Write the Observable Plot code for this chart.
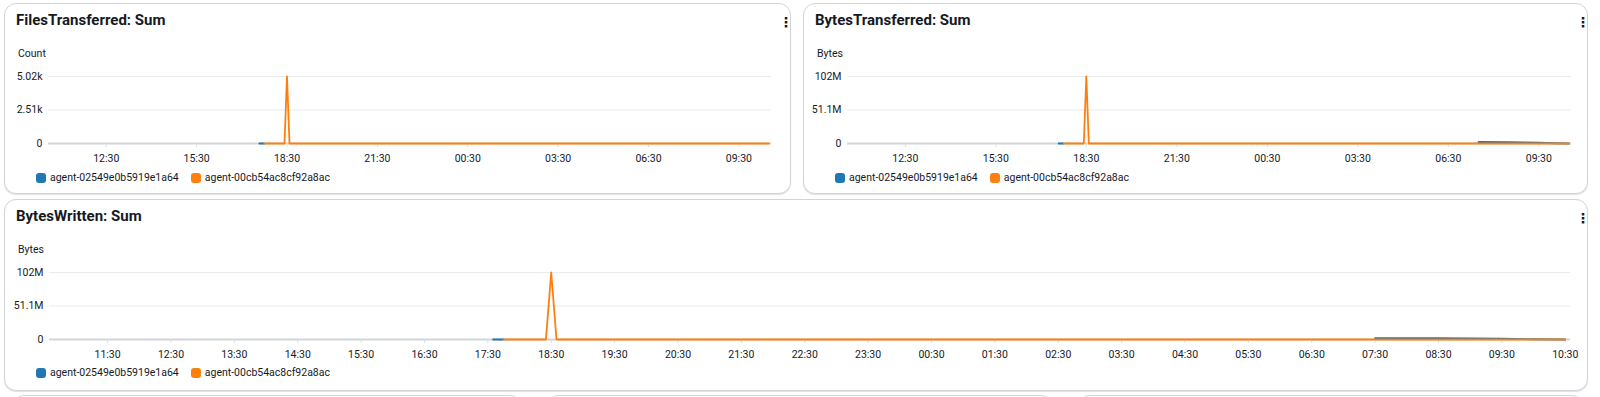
<!DOCTYPE html>
<html>
<head>
<meta charset="utf-8">
<script src="https://cdn.jsdelivr.net/npm/d3@7"></script>
<script src="https://cdn.jsdelivr.net/npm/@observablehq/plot@0.6"></script>
<style>
  html, body { margin: 0; padding: 0; background: #fff; }
  body { width: 1600px; height: 397px; overflow: hidden; position: relative; font-family: Roboto, "Noto Sans", sans-serif; color: #16191f; }
  .panel { position: absolute; box-sizing: border-box; border: 1px solid #d1d5db; border-radius: 12px; background: #fff; box-shadow: 0 1px 1px rgba(0,0,0,0.12); }
  .title { position: absolute; font-weight: 700; font-size: 15px; line-height: 18px; color: #16191f; white-space: nowrap; }
  .kebab { position: absolute; font-family: "DejaVu Sans", sans-serif; font-weight: 700; font-size: 14px; line-height: 16px; color: #16191f; }
  .unit { position: absolute; font-size: 10.5px; line-height: 12px; color: #16191f; }
  .legend { position: absolute; display: flex; align-items: center; font-size: 10.5px; line-height: 12px; color: #16191f; white-space: nowrap; }
  .legend .sw { display: inline-block; width: 10px; height: 10px; border-radius: 3px; margin-right: 4px; }
  .legend .item { display: flex; align-items: center; margin-right: 12px; }
</style>
</head>
<body>
<script>
// ---------------- data ----------------
const seriesNames = ["agent-02549e0b5919e1a64", "agent-00cb54ac8cf92a8ac"];
const seriesColors = ["#1f77b4", "#ff7f0e"];
const timeDomain = ["2024-05-14T10:35Z", "2024-05-15T10:35Z"];

// FilesTransferred (Count)
const filesA_t = ["2024-05-14T17:35Z", "2024-05-14T17:45Z"];
const filesA_v = [0, 0];
const filesA_seg = [1, 1];
const filesB_t = ["2024-05-14T17:45Z", "2024-05-14T18:25Z", "2024-05-14T18:30Z", "2024-05-14T18:35Z", "2024-05-15T10:30Z"];
const filesB_v = [0, 0, 5020, 0, 0];

// BytesTransferred (Bytes)
const bytesTA_t = ["2024-05-14T17:35Z", "2024-05-14T17:45Z", "2024-05-15T07:30Z", "2024-05-15T08:30Z", "2024-05-15T09:00Z", "2024-05-15T09:30Z", "2024-05-15T10:00Z", "2024-05-15T10:30Z"];
const bytesTA_v = [0, 0, 2.3e6, 2.2e6, 1.8e6, 1.2e6, 0.4e6, 0];
const bytesTA_seg = [1, 1, 2, 2, 2, 2, 2, 2];
const bytesTB_t = ["2024-05-14T17:45Z", "2024-05-14T18:25Z", "2024-05-14T18:30Z", "2024-05-14T18:35Z", "2024-05-15T10:30Z"];
const bytesTB_v = [0, 0, 102.2e6, 0, 0];

// BytesWritten (Bytes)
const bytesWA_t = ["2024-05-14T17:35Z", "2024-05-14T17:45Z", "2024-05-15T07:30Z", "2024-05-15T08:30Z", "2024-05-15T09:00Z", "2024-05-15T09:30Z", "2024-05-15T10:00Z", "2024-05-15T10:30Z"];
const bytesWA_v = [0, 0, 2.0e6, 2.0e6, 1.8e6, 1.3e6, 0.4e6, 0];
const bytesWA_seg = [1, 1, 2, 2, 2, 2, 2, 2];
const bytesWB_t = ["2024-05-14T17:45Z", "2024-05-14T18:25Z", "2024-05-14T18:30Z", "2024-05-14T18:35Z", "2024-05-15T10:30Z"];
const bytesWB_v = [0, 0, 102.2e6, 0, 0];

// tick values and labels
const filesYTicks = [0, 2510, 5020];
const filesYLabels = ["0", "2.51k", "5.02k"];
const bytesYTicks = [0, 51.1e6, 102.2e6];
const bytesYLabels = ["0", "51.1M", "102M"];
const xTicks3h = ["2024-05-14T12:30Z", "2024-05-14T15:30Z", "2024-05-14T18:30Z", "2024-05-14T21:30Z", "2024-05-15T00:30Z", "2024-05-15T03:30Z", "2024-05-15T06:30Z", "2024-05-15T09:30Z"];
const xTicks1h = ["2024-05-14T11:30Z", "2024-05-14T12:30Z", "2024-05-14T13:30Z", "2024-05-14T14:30Z", "2024-05-14T15:30Z", "2024-05-14T16:30Z", "2024-05-14T17:30Z", "2024-05-14T18:30Z", "2024-05-14T19:30Z", "2024-05-14T20:30Z", "2024-05-14T21:30Z", "2024-05-14T22:30Z", "2024-05-14T23:30Z", "2024-05-15T00:30Z", "2024-05-15T01:30Z", "2024-05-15T02:30Z", "2024-05-15T03:30Z", "2024-05-15T04:30Z", "2024-05-15T05:30Z", "2024-05-15T06:30Z", "2024-05-15T07:30Z", "2024-05-15T08:30Z", "2024-05-15T09:30Z", "2024-05-15T10:30Z"];

// ---------------- helpers ----------------
const toRows = (ts, vs, seg) => ts.map((t, i) => ({t: new Date(t), v: vs[i], seg: seg ? seg[i] : 1}));

function el(tag, cls, style, text) {
  const e = document.createElement(tag);
  if (cls) e.className = cls;
  Object.assign(e.style, style || {});
  if (text != null) e.textContent = text;
  document.body.appendChild(e);
  return e;
}

function panel(box, title, unit) {
  el("div", "panel", {left: box.x + "px", top: box.y + "px", width: box.w + "px", height: box.h + "px"});
  el("div", "title", {left: (box.x + 12) + "px", top: (box.y + 8) + "px"}, title);
  el("div", "kebab", {left: (box.x + box.w - 12) + "px", top: (box.y + 11) + "px"}, "⋮");
  el("div", "unit", {left: (box.x + 14) + "px", top: (box.y + 45) + "px"}, unit);
}

function legend(x, y) {
  const lg = el("div", "legend", {left: x + "px", top: y + "px"});
  seriesNames.forEach((n, i) => {
    const it = document.createElement("div"); it.className = "item";
    const sw = document.createElement("span"); sw.className = "sw"; sw.style.background = seriesColors[i];
    const tx = document.createElement("span"); tx.textContent = n;
    it.appendChild(sw); it.appendChild(tx); lg.appendChild(it);
  });
}

function chart(pos, rowsA, rowsB, yTicks, yLabels, xTicks) {
  const yMap = new Map(yTicks.map((d, i) => [d, yLabels[i]]));
  const fmt = d3.utcFormat("%H:%M");
  const svg = Plot.plot({
    width: pos.w, height: pos.h,
    marginLeft: pos.ml, marginRight: pos.mr, marginTop: pos.mt, marginBottom: pos.mb,
    style: {fontFamily: "Roboto, 'Noto Sans', sans-serif", fontSize: "10.5px", color: "#16191f", background: "transparent", overflow: "visible"},
    x: {type: "utc", domain: timeDomain.map(d => new Date(d))},
    y: {domain: [0, yTicks[yTicks.length - 1]]},
    marks: [
      Plot.gridY(yTicks.filter(d => d > 0), {stroke: "#e9ebed", strokeOpacity: 1, strokeWidth: 1}),
      Plot.axisY(yTicks, {tickSize: 0, tickPadding: 6, tickFormat: d => yMap.get(d), label: null}),
      Plot.axisX(xTicks.map(d => new Date(d)), {tickSize: 4, tickPadding: 7, stroke: "#dcdfe3", tickFormat: fmt, label: null}),
      Plot.ruleY([0], {stroke: "#d1d5db", strokeWidth: 2}),
      Plot.line(rowsA, {x: "t", y: "v", z: "seg", stroke: seriesColors[0], strokeWidth: 1.8}),
      Plot.line(rowsB, {x: "t", y: "v", stroke: seriesColors[1], strokeWidth: 1.8})
    ]
  });
  svg.style.left = pos.x + "px";
  svg.style.top = pos.y + "px";
  svg.style.position = "absolute";
  document.body.appendChild(svg);
}

// ---------------- layout ----------------
// partial panels peeking at the bottom
el("div", "panel", {left: "12px", top: "395px", width: "510px", height: "40px"});
el("div", "panel", {left: "547px", top: "395px", width: "506px", height: "40px"});
el("div", "panel", {left: "1078px", top: "395px", width: "506px", height: "40px"});

panel({x: 4, y: 3, w: 787, h: 191}, "FilesTransferred: Sum", "Count");
panel({x: 803, y: 3, w: 785, h: 191}, "BytesTransferred: Sum", "Bytes");
panel({x: 4, y: 199, w: 1584, h: 192}, "BytesWritten: Sum", "Bytes");

chart({x: 4, y: 62, w: 787, h: 110, ml: 44, mr: 20, mt: 14, mb: 29},
      toRows(filesA_t, filesA_v, filesA_seg), toRows(filesB_t, filesB_v), filesYTicks, filesYLabels, xTicks3h);
chart({x: 803, y: 62, w: 785, h: 110, ml: 44, mr: 17, mt: 14, mb: 29},
      toRows(bytesTA_t, bytesTA_v, bytesTA_seg), toRows(bytesTB_t, bytesTB_v), bytesYTicks, bytesYLabels, xTicks3h);
chart({x: 4, y: 258, w: 1584, h: 110, ml: 45, mr: 18, mt: 14, mb: 29},
      toRows(bytesWA_t, bytesWA_v, bytesWA_seg), toRows(bytesWB_t, bytesWB_v), bytesYTicks, bytesYLabels, xTicks1h);

legend(36, 172);
legend(835, 172);
legend(36, 367);
</script>
</body>
</html>
